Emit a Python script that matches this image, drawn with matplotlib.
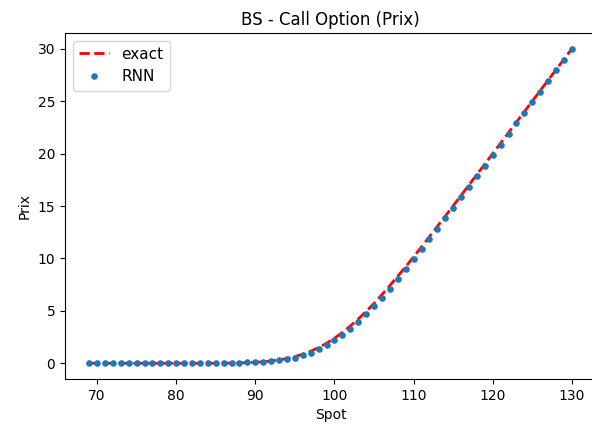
import numpy as np
import matplotlib
matplotlib.use("Agg")
import matplotlib.pyplot as plt

# spot grid (one point per unit, 69 -> 130)
spot = list(range(69, 131))

# exact Black-Scholes call price
exact = [0.00, 0.00, 0.00, 0.00, 0.00, 0.00, 0.00, 0.00,
         0.00, 0.00, 0.00, 0.00, 0.00, 0.00, 0.00, 0.00,
         0.01, 0.01, 0.02, 0.03, 0.06, 0.09, 0.15, 0.22,
         0.32, 0.45, 0.64, 0.87, 1.15, 1.50, 1.91, 2.39,
         2.94, 3.55, 4.22, 4.94, 5.71, 6.54, 7.41, 8.30,
         9.21, 10.15, 11.11, 12.07, 13.05, 14.03, 15.02, 16.01,
         17.01, 18.00, 19.00, 20.00, 21.00, 22.00, 23.00, 24.00,
         25.00, 26.00, 27.00, 28.00, 29.00, 30.00]

# network prediction
rnn = [0.03, 0.02, 0.02, 0.03, 0.02, 0.02, 0.03, 0.02,
       0.02, 0.03, 0.02, 0.02, 0.03, 0.02, 0.02, 0.03,
       0.03, 0.04, 0.05, 0.06, 0.08, 0.10, 0.14, 0.19,
       0.27, 0.38, 0.55, 0.76, 1.02, 1.35, 1.75, 2.20,
       2.72, 3.30, 3.95, 4.66, 5.43, 6.25, 7.12, 8.02,
       8.95, 9.90, 10.87, 11.85, 12.84, 13.84, 14.83, 15.83,
       16.83, 17.83, 18.84, 19.85, 20.86, 21.87, 22.88, 23.89,
       24.90, 25.91, 26.93, 27.95, 28.97, 29.98]

fig = plt.figure(figsize=(5.92, 4.30), dpi=100)
ax = fig.add_axes([65 / 592, 51 / 430, 531 / 592, 346 / 430])

ax.plot(spot, exact, 'r--', lw=2, label='exact')
ax.plot(spot, rnn, '.', color='tab:blue', ms=7.5, label='RNN')

ax.set_title('BS - Call Option (Prix)')
ax.set_xlabel('Spot')
ax.set_ylabel('Prix')
ax.legend(loc='upper left', fontsize=11)

fig.savefig('out.png', dpi=100)
